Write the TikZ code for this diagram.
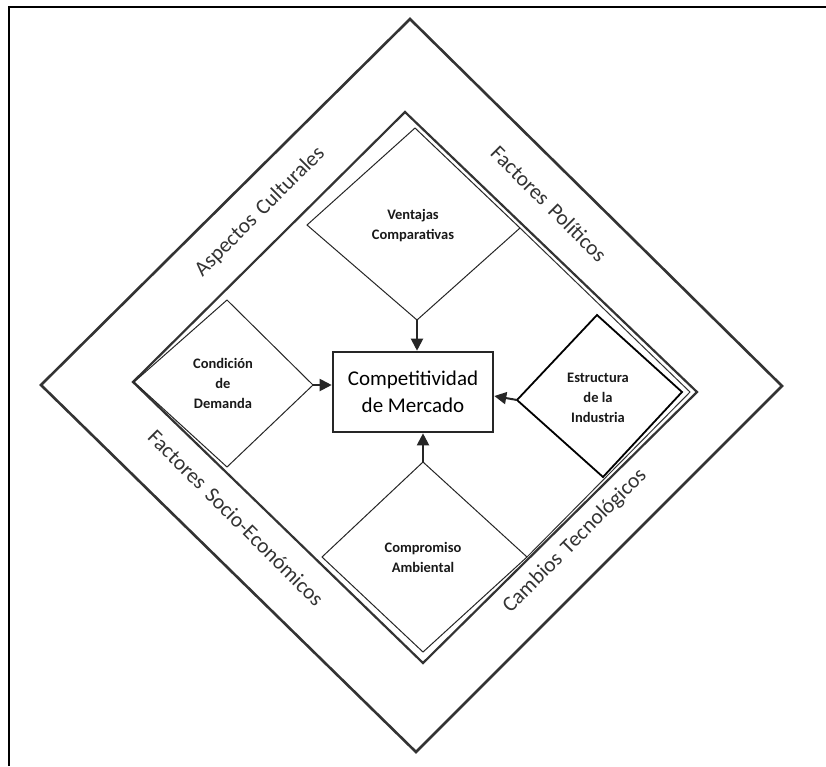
\documentclass[tikz,border=0pt]{standalone}
\usepackage{fontspec}
\setmainfont{Carlito}
\newfontfamily\bandfont[WordSpace=1.6]{Carlito}
\usetikzlibrary{arrows.meta}
\begin{document}
\begin{tikzpicture}[x=1pt,y=-1pt,
  frame/.style={line width=2.6pt,draw=black},
  outerd/.style={line width=2.6pt,draw=black!80,line join=miter},
  innerd/.style={line width=2.2pt,draw=black!80,line join=miter},
  thinline/.style={line width=1pt,draw=black!80,line join=miter},
  piece/.style={line width=1pt,draw=black!85,line join=miter},
  boldpiece/.style={line width=1.8pt,draw=black,line join=miter},
  lbl/.style={font=\fontsize{14.5}{20}\selectfont\bfseries,align=center,text=black!90,inner sep=0pt},
  centre/.style={draw=black!85,line width=2.6pt,minimum width=160pt,minimum height=80pt,inner sep=0pt,
     font=\fontsize{21}{27}\selectfont,align=center},
  band/.style={font=\bandfont\fontsize{21.5}{24}\selectfont,text=black!80,inner sep=0pt},
  arr/.style={line width=2pt,draw=black!85,-{Triangle[length=12pt,width=12pt]}}]
\useasboundingbox (0,0) rectangle (826,766);
% frame (only top and left edges visible)
\coordinate (FL) at (9,766);
\coordinate (FC) at (9,7);
\coordinate (FR) at (826,7);
\draw[frame] (FL) -- (FC) -- (FR);
% outer diamond
\coordinate (OT) at (410,19);
\coordinate (OL) at (41,385);
\coordinate (OB) at (416,752);
\coordinate (OR) at (782,386);
\draw[outerd] (OT) -- (OR) -- (OB) -- (OL) -- cycle;
% inner diamond
\coordinate (IT) at (405,112);
\coordinate (IL) at (133,382);
\coordinate (IB) at (423,663);
\coordinate (IR) at (697,392);
\draw[innerd] (IT) -- (IR) -- (IB) -- (IL) -- cycle;
% top piece
\coordinate (VT) at (415,128);
\coordinate (VL) at (307,225);
\coordinate (VB) at (417,320);
\coordinate (VR) at (520,228);
\draw[piece] (VT) -- (VR) -- (VB) -- (VL) -- cycle;
% second thin line on the right
\coordinate (TR) at (690,392);
% bottom piece
\coordinate (BT) at (423,462);
\coordinate (BL) at (322,557);
\coordinate (BB) at (423,652);
\coordinate (BR) at (527,557);
\draw[piece] (BT) -- (BR) -- (BB) -- (BL) -- cycle;
\draw[thinline] (VR) -- (TR) -- (BR);
% left piece
\coordinate (LT) at (227,300);
\coordinate (LL) at (134,382);
\coordinate (LB) at (227,467);
\coordinate (LR) at (313,385);
\draw[piece] (LT) -- (LR) -- (LB) -- (LL) -- cycle;
% right piece
\coordinate (RT) at (597,315);
\coordinate (RL) at (517,400);
\coordinate (RB) at (603,477);
\coordinate (RR) at (682,392);
\draw[boldpiece] (RT) -- (RR) -- (RB) -- (RL) -- cycle;
% labels
\node[lbl] (ventajas) at (413,226) {Ventajas\\Comparativas};
\node[lbl] (condicion) at (223,383) {Condición\\de\\Demanda};
\node[lbl] (estructura) at (598,398) {Estructura\\de la\\Industria};
\node[lbl] (compromiso) at (423,557) {Compromiso\\Ambiental};
\node[centre] (comp) at (413,392) {Competitividad\\de Mercado};
% arrows
\draw[arr] (VB) -- (VB |- comp.north);
\draw[arr] (LR) -- (LR -| comp.west);
\draw[arr] (RL) -- (comp.east |- 0,396);
\draw[arr] (BT) -- (BT |- comp.south);
% band labels
\node[band,rotate=45] (cult) at (260,212) {Aspectos Culturales};
\node[band,rotate=-45] (polit) at (549,204) {Factores Políticos};
\node[band,rotate=-45] (socio) at (236,518) {Factores Socio-Económicos};
\node[band,rotate=45] (tecno) at (575,541) {Cambios Tecnológicos};
\end{tikzpicture}
\end{document}
